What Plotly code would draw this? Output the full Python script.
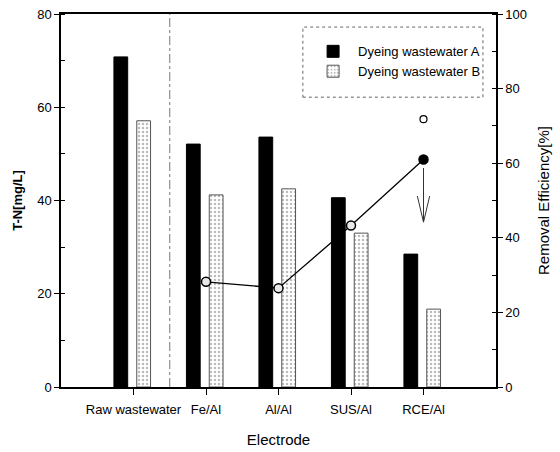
import plotly.graph_objects as go

categories = ["Raw wastewater", "Fe/Al", "Al/Al", "SUS/Al", "RCE/Al"]
tn_a = [70.8, 52.1, 53.6, 40.6, 28.5]
tn_b = [57.1, 41.2, 42.5, 33.0, 16.7]
eff_categories = ["Fe/Al", "Al/Al", "SUS/Al", "RCE/Al"]
removal_eff = [28.2, 26.5, 43.3, 61.0]
rce_marker_value = 71.8
arrow_from, arrow_to = 58.7, 44.2

xpos = list(range(len(categories)))
eff_x = [categories.index(c) for c in eff_categories]
FONT = "Liberation Sans, Arial, sans-serif"

fig = go.Figure()
fig.add_trace(go.Bar(
    x=xpos, y=tn_a, name="Dyeing wastewater A", width=0.19, offset=-0.27,
    marker=dict(color="black", line=dict(color="black", width=1)),
))
fig.add_trace(go.Bar(
    x=xpos, y=tn_b, name="Dyeing wastewater B", width=0.19, offset=0.045,
    marker=dict(color="white", line=dict(color="#555", width=1),
                pattern=dict(shape=".", fgcolor="#777", bgcolor="white", size=4, solidity=0.3)),
))
fig.add_trace(go.Scatter(
    x=eff_x, y=removal_eff, yaxis="y2", mode="lines+markers", showlegend=False,
    line=dict(color="black", width=1.3),
    marker=dict(size=9, color=["#e8e8e8", "#e8e8e8", "#e8e8e8", "black"],
                line=dict(color="black", width=1.5)),
))
fig.add_trace(go.Scatter(
    x=[eff_x[-1]], y=[rce_marker_value], yaxis="y2", mode="markers", showlegend=False,
    marker=dict(size=7, color="white", line=dict(color="black", width=1.2)),
))

# open V-shaped arrow (shaft + two barbs)
ax_x = eff_x[-1]
fig.add_shape(type="line", x0=ax_x, x1=ax_x, y0=arrow_from, y1=arrow_to,
              xref="x", yref="y2", line=dict(color="#333", width=1))
for dx in (-0.085, 0.085):
    fig.add_shape(type="line", x0=ax_x + dx, x1=ax_x, y0=arrow_to + 7, y1=arrow_to,
                  xref="x", yref="y2", line=dict(color="#333", width=1))

fig.add_shape(type="line", x0=0.5, x1=0.5, y0=0, y1=80, xref="x", yref="y",
              line=dict(color="#777", width=1, dash="dashdot"))

# dotted legend frame
fig.add_shape(type="rect", xref="paper", yref="paper",
              x0=0.556, x1=0.970, y0=0.777, y1=0.965,
              line=dict(color="#666", width=1, dash="dot"), fillcolor="white", layer="below")

fig.update_layout(
    width=560, height=452,
    margin=dict(l=61, r=64, t=14, b=65, autoexpand=False),
    paper_bgcolor="white", plot_bgcolor="white",
    font=dict(family=FONT, size=13, color="black"),
    barmode="overlay",
    xaxis=dict(range=[-1, 5], tickvals=xpos, ticktext=categories, automargin=False,
               showline=True, linecolor="black", linewidth=1.5, mirror=True,
               ticks="outside", ticklen=6, tickcolor="black", showgrid=False, zeroline=False,
               ticklabelstandoff=4,
               title=dict(text="Electrode", font=dict(size=15, family=FONT), standoff=18)),
    yaxis=dict(range=[0, 80], dtick=20, showline=True, linecolor="black", linewidth=1.5,
               automargin=False,
               ticks="outside", ticklen=5, tickcolor="black", showgrid=False, zeroline=False,
               minor=dict(dtick=10, ticks="inside", ticklen=4, tickcolor="black"),
               title=dict(text="<b>T-N[mg/L]</b>", font=dict(size=13, family=FONT), standoff=12)),
    yaxis2=dict(range=[0, 100], dtick=20, overlaying="y", side="right",
                showline=True, linecolor="black", linewidth=1.5, automargin=False,
                ticks="outside", ticklen=5, tickcolor="black", showgrid=False, zeroline=False,
                minor=dict(dtick=10, ticks="inside", ticklen=4, tickcolor="black"),
                title=dict(text="Removal Efficiency[%]", font=dict(size=15, family=FONT), standoff=12)),
    legend=dict(x=0.568, y=0.94, xanchor="left", yanchor="top",
                bgcolor="rgba(0,0,0,0)", borderwidth=0,
                font=dict(size=13, family=FONT), itemwidth=40),
)

fig.write_html("out.html", config={"displayModeBar": False},
               post_script="document.body.style.margin='0';")
